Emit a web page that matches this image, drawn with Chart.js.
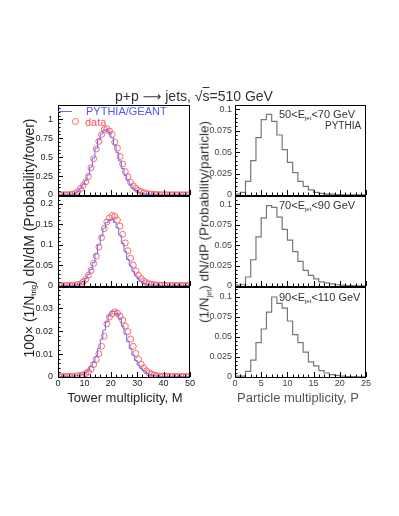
<!DOCTYPE html>
<html>
<head>
<meta charset="utf-8">
<script src="https://cdn.jsdelivr.net/npm/chart.js@4.4.1/dist/chart.umd.min.js"></script>
<style>
  body { margin: 0; background: #fff; }
  #wrap { position: relative; width: 399px; height: 516px; overflow: hidden; font-family: "Liberation Sans", Arial, sans-serif; }
  canvas { position: absolute; }
  .txt { position: absolute; white-space: nowrap; line-height: 1; }
  .sub { font-size: 0.55em; vertical-align: -0.35em; }
</style>
</head>
<body>
<div id="wrap">
  <canvas id="l1" width="185" height="115"></canvas>
  <canvas id="l2" width="185" height="115"></canvas>
  <canvas id="l3" width="185" height="115"></canvas>
  <canvas id="r1" width="184" height="115"></canvas>
  <canvas id="r2" width="184" height="115"></canvas>
  <canvas id="r3" width="184" height="115"></canvas>

  <div class="txt" style="left:194px;top:96px;font-size:14px;color:#333;transform:translate(-50%,-50%);">p+p <span style="font-family:'DejaVu Sans';font-size:13px;">&#10230;</span> jets, &radic;<span style="text-decoration:overline">s</span>=510 GeV</div>

  <div class="txt" style="left:30px;top:238px;font-size:14px;color:#222;transform:translate(-50%,-50%) rotate(-90deg);">100&times; (1/N<span class="sub">trig</span>) dN/dM (Probability/tower)</div>
  <div class="txt" style="left:205px;top:222px;font-size:13.5px;color:#333;transform:translate(-50%,-50%) rotate(-90deg);">(1/N<span class="sub">jet</span>) dN/dP (Probability/particle)</div>

  <div class="txt" style="left:125px;top:397px;font-size:13px;color:#222;transform:translate(-50%,-50%);">Tower multiplicity, M</div>
  <div class="txt" style="left:298px;top:397px;font-size:13px;color:#555;transform:translate(-50%,-50%);">Particle multiplicity, P</div>

  <!-- legend -->
  <div style="position:absolute;left:58px;top:111px;width:14px;border-top:1px solid #6b6bff;"></div>
  <div class="txt" style="left:86px;top:106px;font-size:11px;color:#5555ff;">PYTHIA/GEANT</div>
  <div style="position:absolute;left:72px;top:118px;width:5px;height:5px;border:1px solid #ff6060;border-radius:50%;"></div>
  <div class="txt" style="left:85px;top:117px;font-size:11px;color:#ff5050;">data</div>

  <div class="txt" style="left:279px;top:109px;font-size:11px;color:#333;">50&lt;E<span class="sub">jet</span>&lt;70 GeV</div>
  <div class="txt" style="left:325px;top:121px;font-size:10px;color:#333;">PYTHIA</div>
  <div class="txt" style="left:279px;top:200px;font-size:11px;color:#333;">70&lt;E<span class="sub">jet</span>&lt;90 GeV</div>
  <div class="txt" style="left:279px;top:292px;font-size:11px;color:#333;">90&lt;E<span class="sub">jet</span>&lt;110 GeV</div>
</div>

<script>
// bins (lower edges)
const towerBins = [0,1,2,3,4,5,6,7,8,9,10,11,12,13,14,15,16,17,18,19,20,21,22,23,24,
  25,26,27,28,29,30,31,32,33,34,35,36,37,38,39,40,41,42,43,44,45,46,47,48,49];
const particleBins = [0,1,2,3,4,5,6,7,8,9,10,11,12,13,14,15,16,17,18,19,20,21,22,23,24];

// tower multiplicity, data (red circles)
const dataM50 = [0.003,0.003,0.004,0.004,0.006,0.010,0.020,0.045,0.085,0.125,
  0.175,0.245,0.36,0.48,0.61,0.71,0.80,0.865,0.875,0.845,
  0.80,0.70,0.62,0.51,0.41,0.31,0.24,0.17,0.12,0.09,
  0.06,0.045,0.03,0.02,0.014,0.010,0.008,0.006,0.005,0.004,
  0.004,0.003,0.003,0.003,0.003,0.003,0.002,0.002,0.002,0.002];
const dataM70 = [0.001,0.001,0.001,0.001,0.001,0.002,0.002,0.003,0.005,0.010,
  0.016,0.026,0.038,0.055,0.073,0.095,0.118,0.140,0.156,0.166,
  0.172,0.170,0.161,0.146,0.126,0.105,0.086,0.068,0.051,0.037,
  0.026,0.018,0.012,0.008,0.005,0.004,0.003,0.002,0.002,0.002,
  0.001,0.001,0.001,0.001,0.001,0.001,0.001,0.001,0.001,0.001];
const dataM90 = [0.0002,0.0002,0.0002,0.0002,0.0002,0.0003,0.0004,0.0005,0.0007,0.0009,
  0.0015,0.0023,0.0035,0.0054,0.0076,0.0102,0.0134,0.0178,0.0232,0.0262,
  0.0275,0.0285,0.0279,0.0266,0.0248,0.0222,0.0198,0.0166,0.0134,0.0103,
  0.0077,0.0056,0.0040,0.0027,0.0018,0.0012,0.0008,0.0005,0.0004,0.0003,
  0.0003,0.0002,0.0002,0.0002,0.0002,0.0002,0.0002,0.0002,0.0002,0.0002];

// tower multiplicity, PYTHIA/GEANT (blue histogram)
const simM50 = [0.002,0.002,0.003,0.003,0.005,0.010,0.025,0.050,0.090,0.135,
  0.19,0.265,0.37,0.49,0.62,0.73,0.81,0.86,0.865,0.83,
  0.76,0.66,0.56,0.45,0.35,0.26,0.19,0.13,0.09,0.06,
  0.04,0.025,0.016,0.010,0.007,0.005,0.004,0.003,0.003,0.002,
  0.002,0.002,0.002,0.001,0.001,0.001,0.001,0.001,0.001,0.001];
const simM70 = [0.001,0.001,0.001,0.001,0.001,0.002,0.002,0.004,0.006,0.011,
  0.018,0.028,0.040,0.057,0.078,0.100,0.122,0.141,0.155,0.162,
  0.162,0.155,0.142,0.124,0.104,0.084,0.065,0.049,0.036,0.025,
  0.017,0.011,0.007,0.005,0.003,0.002,0.002,0.001,0.001,0.001,
  0.001,0.001,0.001,0.001,0.001,0.001,0.001,0.001,0.001,0.001];
const simM90 = [0.0002,0.0002,0.0002,0.0003,0.0003,0.0004,0.0005,0.0006,0.0008,0.0012,
  0.0020,0.0030,0.0045,0.0065,0.0090,0.0125,0.0165,0.0205,0.0240,0.0270,
  0.0287,0.0288,0.0275,0.0252,0.0222,0.0188,0.0155,0.0123,0.0095,0.0072,
  0.0053,0.0038,0.0027,0.0018,0.0012,0.0008,0.0005,0.0004,0.0003,0.0002,
  0.0002,0.0002,0.0002,0.0002,0.0002,0.0002,0.0002,0.0002,0.0002,0.0002];

// particle multiplicity, PYTHIA (gray histogram)
const partE50 = [0.001,0.003,0.016,0.040,0.067,0.088,0.094,0.086,0.070,0.053,
  0.038,0.026,0.016,0.010,0.006,0.003,0.002,0.001,0.001,0.0005,
  0.0003,0.0002,0.0001,0.0001,0.0001];
const partE70 = [0.001,0.0015,0.011,0.032,0.060,0.083,0.098,0.096,0.084,0.069,
  0.056,0.042,0.030,0.019,0.013,0.0086,0.005,0.0037,0.0025,0.0015,
  0.001,0.0006,0.0004,0.0002,0.0001];
const partE90 = [0.001,0.001,0.007,0.021,0.043,0.060,0.081,0.100,0.092,0.086,
  0.070,0.053,0.043,0.031,0.019,0.014,0.008,0.005,0.003,0.002,
  0.001,0.0006,0.0004,0.0002,0.0001];

// tick labels
const towerXLabels = ['0','10','20','30','40','50'];
const particleXLabels = ['0','5','10','15','20','25'];
const yLabelsM50 = ['0','0.25','0.5','0.75','1'];
const yLabelsM70 = ['0','0.05','0.1','0.15','0.2'];
const yLabelsM90 = ['0','0.01','0.02','0.03'];
const yLabelsPart = ['0','0.025','0.05','0.075','0.1'];

// frame, inward ticks and tick labels, ROOT style
const panelPlugin = {
  id: 'panel',
  afterDraw(chart, args, o) {
    const ctx = chart.ctx, a = chart.chartArea;
    const xs = chart.scales.x, ys = chart.scales.y;
    ctx.save();
    ctx.strokeStyle = '#000';
    ctx.lineWidth = 1;
    ctx.beginPath();
    // minor + major ticks on x
    for (let v = xs.min; v <= xs.max + 1e-9; v += o.xMinor) {
      const px = Math.round(xs.getPixelForValue(v)) + 0.5;
      const major = o.xLabels.some(l => Math.abs(parseFloat(l) - v) < 1e-9);
      ctx.moveTo(px, a.bottom);
      ctx.lineTo(px, a.bottom - (major ? 5 : 2.5));
    }
    for (let v = ys.min; v <= ys.max + 1e-12; v += o.yMinor) {
      const py = Math.round(ys.getPixelForValue(v)) + 0.5;
      const major = o.yLabels.some(l => Math.abs(parseFloat(l) - v) < o.yMinor / 10);
      ctx.moveTo(a.left, py);
      ctx.lineTo(a.left + (major ? 5 : 2.5), py);
    }
    ctx.stroke();
    ctx.strokeRect(a.left + 0.5, a.top + 0.5, a.right - a.left - 1, a.bottom - a.top);

    ctx.fillStyle = o.color;
    ctx.font = '9px "Liberation Sans", Arial, sans-serif';
    ctx.textAlign = 'right';
    ctx.textBaseline = 'middle';
    o.yLabels.forEach(l => {
      ctx.fillText(l, a.left - o.yGap, ys.getPixelForValue(parseFloat(l)));
    });
    if (o.showX) {
      ctx.textAlign = 'center';
      ctx.textBaseline = 'top';
      o.xLabels.forEach(l => {
        ctx.fillText(l, xs.getPixelForValue(parseFloat(l)), a.bottom + 2);
      });
    }
    ctx.restore();
  }
};

function place(id, left, top) {
  const c = document.getElementById(id);
  c.style.left = left + 'px';
  c.style.top = top + 'px';
  return c;
}

function baseOptions(xMax, yMax, panel) {
  return {
    responsive: false,
    animation: false,
    devicePixelRatio: 1,
    layout: { padding: { left: 45, right: 8, top: 5, bottom: 20 } },
    plugins: { legend: { display: false }, tooltip: { enabled: false }, panel: panel },
    scales: {
      x: { type: 'linear', display: false, min: 0, max: xMax },
      y: { type: 'linear', display: false, min: 0, max: yMax }
    }
  };
}

function histPoints(bins, vals) {
  const pts = bins.map((b, i) => ({ x: b, y: vals[i] }));
  pts.push({ x: bins[bins.length - 1] + 1, y: vals[vals.length - 1] });
  return pts;
}

function towerPanel(id, top, dataVals, simVals, yMax, yLabels, yMinor, showX) {
  new Chart(place(id, 13, top - 5), {
    type: 'line',
    data: {
      datasets: [
        {
          label: 'PYTHIA/GEANT',
          data: histPoints(towerBins, simVals),
          stepped: true,
          borderColor: '#6b6bff',
          borderWidth: 1,
          pointRadius: 0,
          fill: false
        },
        {
          label: 'data',
          data: towerBins.map((b, i) => ({ x: b + 0.5, y: dataVals[i] })),
          showLine: false,
          pointStyle: 'circle',
          pointRadius: 3,
          pointBorderWidth: 1,
          pointBorderColor: 'rgba(255,80,80,0.85)',
          pointBackgroundColor: 'rgba(0,0,0,0)'
        }
      ]
    },
    options: baseOptions(50, yMax, {
      xLabels: towerXLabels, xMinor: 2, yLabels: yLabels, yMinor: yMinor,
      showX: showX, yGap: 5, color: '#222'
    }),
    plugins: [panelPlugin]
  });
}

function particlePanel(id, top, vals, yMax, showX) {
  new Chart(place(id, 190, top - 5), {
    type: 'line',
    data: {
      datasets: [{
        label: 'PYTHIA',
        data: histPoints(particleBins, vals),
        stepped: true,
        borderColor: '#777',
        borderWidth: 1.2,
        pointRadius: 0,
        fill: false
      }]
    },
    options: baseOptions(25, yMax, {
      xLabels: particleXLabels, xMinor: 1, yLabels: yLabelsPart, yMinor: 0.005,
      showX: showX, yGap: 3, color: '#444'
    }),
    plugins: [panelPlugin]
  });
}

towerPanel('l1', 105, dataM50, simM50, 1.19, yLabelsM50, 0.05, false);
towerPanel('l2', 196, dataM70, simM70, 0.2195, yLabelsM70, 0.01, false);
towerPanel('l3', 287, dataM90, simM90, 0.0393, yLabelsM90, 0.002, true);

particlePanel('r1', 105, partE50, 0.105, false);
particlePanel('r2', 196, partE70, 0.1098, false);
particlePanel('r3', 287, partE90, 0.1125, true);
</script>
</body>
</html>
